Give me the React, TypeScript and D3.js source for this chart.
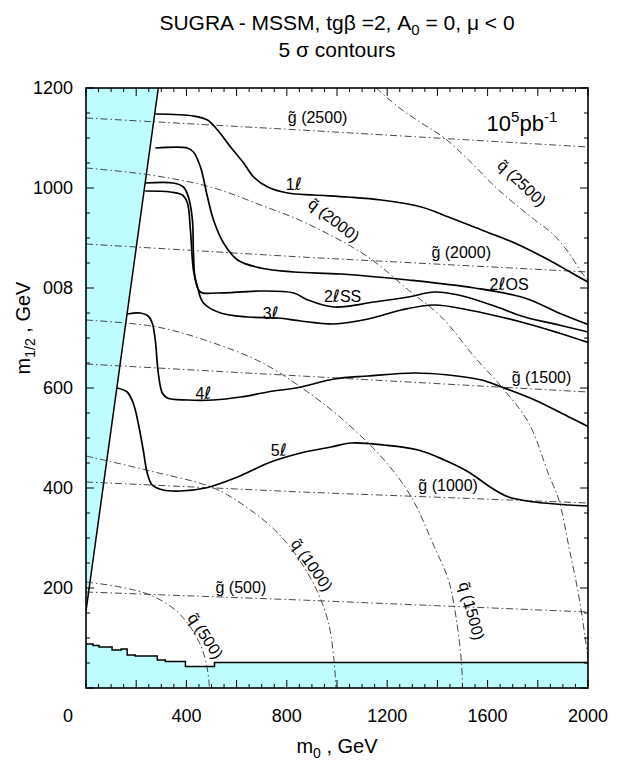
import React from "react";
import * as d3 from "d3";

const W = 622;
const H = 760;
const FRAME = { left: 86, right: 588, top: 88, bottom: 688 };

type P = [number, number];

// axis ticks
const xTickValues = [400, 800, 1200, 1600, 2000];
const xTickLabels = ["400", "800", "1200", "1600", "2000"];
const yTickValues = [200, 400, 600, 800, 1000, 1200];
const yTickLabels = ["200", "400", "600", "008", "1000", "1200"];

// 5 sigma contours (m0, m1/2)
const curve1l: P[] = [[276,1148],[428,1144],[484,1136],[524,1116],[576,1082],[628,1050],[668,1022],[724,1002],[804,990],[908,986],[1044,982],[1176,976],[1336,962],[1444,942],[1576,916],[1708,890],[1844,856],[1936,830],[2000,812]];
const curve2lOS: P[] = [[276,1080],[404,1080],[428,1072],[456,1042],[484,982],[508,936],[548,890],[604,856],[696,840],[828,832],[1016,828],[1284,816],[1548,800],[1748,780],[1884,750],[2000,727]];
const curve2lSS: P[] = [[236,1010],[348,1010],[388,1002],[408,982],[424,936],[428,870],[436,816],[456,792],[524,790],[696,794],[828,790],[884,776],[988,762],[1148,772],[1284,782],[1388,792],[1484,786],[1616,766],[1748,742],[1884,726],[2000,712]];
const curve3l: P[] = [[236,994],[336,992],[384,986],[404,970],[416,916],[428,836],[444,802],[468,770],[536,750],[644,742],[764,740],[856,734],[988,728],[1124,738],[1256,756],[1388,766],[1524,756],[1748,730],[1884,710],[2000,691]];
const curve4l: P[] = [[164,748],[216,750],[248,744],[264,730],[276,696],[288,630],[304,590],[324,580],[404,576],[508,576],[616,582],[724,592],[856,602],[988,618],[1124,624],[1308,630],[1444,626],[1576,616],[1656,602],[1788,576],[1924,542],[2000,523]];
const curve5l: P[] = [[124,600],[164,592],[188,570],[208,530],[228,476],[244,430],[264,406],[308,396],[376,394],[476,400],[604,422],[736,452],[856,470],[976,482],[1056,490],[1188,486],[1324,476],[1428,456],[1524,432],[1616,400],[1684,382],[1788,372],[1924,366],[2000,364]];

// gluino mass contours
const gluino500: P[] = [[0,192],[856,176],[2000,152]];
const gluino1000: P[] = [[0,412],[856,392],[2000,370]];
const gluino1500: P[] = [[0,648],[856,624],[2000,592]];
const gluino2000: P[] = [[0,888],[856,862],[2000,832]];
const gluino2500: P[] = [[0,1140],[856,1116],[2000,1082]];

// squark mass contours
const squark500: P[] = [[0,212],[136,202],[256,186],[356,156],[424,116],[464,76],[484,36],[492,0]];
const squark1000: P[] = [[0,464],[256,434],[508,400],[644,360],[764,310],[856,252],[928,186],[968,126],[988,56],[996,0]];
const squark1500: P[] = [[0,736],[284,722],[508,690],[696,652],[844,606],[1016,540],[1188,456],[1296,382],[1388,282],[1444,216],[1476,136],[1496,50],[1500,0]];
const squark2000: P[] = [[0,1040],[256,1026],[496,1002],[696,966],[876,930],[1124,862],[1284,796],[1416,742],[1548,662],[1656,602],[1764,530],[1844,426],[1884,376],[1924,282],[1964,182],[2000,60]];
const squark2500: P[] = [[1156,1200],[1244,1162],[1336,1130],[1428,1100],[1524,1056],[1644,996],[1788,936],[1856,910],[1924,870],[1976,830],[2000,816]];

// excluded regions
const wedgeEdge: P[] = [[288,1200],[0,154]];
const stairM0 = [0,28,52,104,140,164,196,284,316,396,512,2000];
const stairM12 = [88,85,82,76,78,66,64,56,53,43,51,51];

// annotations
const gluinoLabels = [
  { text: "(2500)", m0: 804, m12: 1130 },
  { text: "(2000)", m0: 1376, m12: 860 },
  { text: "(1500)", m0: 1696, m12: 610 },
  { text: "(1000)", m0: 1324, m12: 394 },
  { text: "(500)", m0: 516, m12: 190 },
];
const squarkLabels = [
  { text: "(2500)", m0: 1736, m12: 1010, angle: 43 },
  { text: "(2000)", m0: 988, m12: 936, angle: 38 },
  { text: "(1500)", m0: 1536, m12: 154, angle: 75 },
  { text: "(1000)", m0: 900, m12: 246, angle: 55 },
  { text: "(500)", m0: 476, m12: 104, angle: 57 },
];
const curveLabels = [
  { pre: "1", post: "", m0: 796, m12: 996 },
  { pre: "2", post: "SS", m0: 948, m12: 772 },
  { pre: "3", post: "", m0: 704, m12: 738 },
  { pre: "2", post: "OS", m0: 1608, m12: 796 },
  { pre: "4", post: "", m0: 436, m12: 578 },
  { pre: "5", post: "", m0: 736, m12: 464 },
];

const FONT = "'Liberation Sans', Arial, Helvetica, sans-serif";

export default function App() {
  const x = d3.scaleLinear().domain([0, 2000]).range([FRAME.left, FRAME.right]);
  const y = d3.scaleLinear().domain([0, 1200]).range([FRAME.bottom, FRAME.top]);

  const smooth = d3.line<P>().x(d => x(d[0])).y(d => y(d[1])).curve(d3.curveCatmullRom.alpha(0.5));
  const straight = d3.line<P>().x(d => x(d[0])).y(d => y(d[1]));

  const wedgeArea: P[] = [[0, 1200], wedgeEdge[0], wedgeEdge[1], [0, wedgeEdge[1][1]]];
  const stairPts: P[] = stairM0.map((m, i) => [m, stairM12[i]] as P);
  const stairLine = d3.line<P>().x(d => x(d[0])).y(d => y(d[1])).curve(d3.curveStepAfter);
  const stairArea = d3.area<P>().x(d => x(d[0])).y0(y(0)).y1(d => y(d[1])).curve(d3.curveStepAfter);

  const solids = [curve1l, curve2lOS, curve2lSS, curve3l, curve4l, curve5l];
  const gluinos = [gluino500, gluino1000, gluino1500, gluino2000, gluino2500];
  const squarks = [squark500, squark1000, squark1500, squark2000, squark2500];

  const minorX = d3.range(0, 2001, 50);
  const minorY = d3.range(0, 1201, 50);
  const isMajor = (v: number) => v % 200 === 0;

  const cyan = "#bffcfd";
  const dash = "7,3,1.5,3";

  return (
    <svg width={W} height={H} style={{ position: "absolute", left: 0, top: 0, background: "#fff" }} fontFamily={FONT}>
      <defs>
        <clipPath id="plot">
          <rect x={FRAME.left} y={FRAME.top} width={FRAME.right - FRAME.left} height={FRAME.bottom - FRAME.top} />
        </clipPath>
      </defs>

      {/* title */}
      <text x={337} y={30} fontSize={21} textAnchor="middle" fill="#000">
        SUGRA - MSSM, tgβ =2, A<tspan dy={5} fontSize={15}>0</tspan><tspan dy={-5}> = 0, μ &lt; 0</tspan>
      </text>
      <text x={337} y={57} fontSize={21} textAnchor="middle" fill="#000">5 σ contours</text>

      <g clipPath="url(#plot)">
        <path d={straight(wedgeArea) || ""} fill={cyan} stroke="none" />
        <path d={stairArea(stairPts) || ""} fill={cyan} stroke="none" />
        <path d={straight(wedgeEdge) || ""} fill="none" stroke="#000" strokeWidth={1.5} />
        <path d={stairLine(stairPts) || ""} fill="none" stroke="#000" strokeWidth={1.5} />

        {gluinos.map((g, i) => (
          <path key={"g" + i} d={straight(g) || ""} fill="none" stroke="#333" strokeWidth={0.9} strokeDasharray={dash} />
        ))}
        {squarks.map((s, i) => (
          <path key={"q" + i} d={smooth(s) || ""} fill="none" stroke="#333" strokeWidth={0.9} strokeDasharray={dash} />
        ))}
        {solids.map((c, i) => (
          <path key={"c" + i} d={smooth(c) || ""} fill="none" stroke="#000" strokeWidth={1.7} />
        ))}
      </g>

      {/* ticks */}
      <g stroke="#000" strokeWidth={1}>
        {minorX.map(v => {
          const len = isMajor(v) ? 8 : 4;
          return (
            <g key={"tx" + v}>
              <line x1={x(v)} x2={x(v)} y1={FRAME.bottom} y2={FRAME.bottom - len} />
              <line x1={x(v)} x2={x(v)} y1={FRAME.top} y2={FRAME.top + len} />
            </g>
          );
        })}
        {minorY.map(v => {
          const len = isMajor(v) ? 8 : 4;
          return (
            <g key={"ty" + v}>
              <line x1={FRAME.left} x2={FRAME.left + len} y1={y(v)} y2={y(v)} />
              <line x1={FRAME.right} x2={FRAME.right - len} y1={y(v)} y2={y(v)} />
            </g>
          );
        })}
      </g>

      <rect x={FRAME.left} y={FRAME.top} width={FRAME.right - FRAME.left} height={FRAME.bottom - FRAME.top} fill="none" stroke="#000" strokeWidth={1.6} />

      {/* annotations */}
      <g fontSize={16} fill="#000">
        {gluinoLabels.map((l, i) => (
          <text key={"gl" + i} x={x(l.m0)} y={y(l.m12)}>g̃ {l.text}</text>
        ))}
        {squarkLabels.map((l, i) => (
          <text key={"ql" + i} textAnchor="middle" dominantBaseline="central"
            transform={`translate(${x(l.m0)},${y(l.m12)}) rotate(${l.angle})`}>q̃ {l.text}</text>
        ))}
        {curveLabels.map((l, i) => (
          <text key={"cl" + i} x={x(l.m0)} y={y(l.m12)}>
            {l.pre}<tspan fontFamily="'DejaVu Sans', sans-serif" fontSize={17}>ℓ</tspan>{l.post}
          </text>
        ))}
      </g>
      <text x={x(1596)} y={y(1114)} fontSize={22} fill="#000">
        10<tspan dy={-9} fontSize={15}>5</tspan><tspan dy={9}>pb</tspan><tspan dy={-9} fontSize={15}>-1</tspan>
      </text>

      {/* tick labels */}
      <g fontSize={18} fill="#000">
        {xTickValues.map((v, i) => (
          <text key={"xl" + v} x={x(v)} y={722} textAnchor="middle">{xTickLabels[i]}</text>
        ))}
        <text x={68} y={722} textAnchor="middle">0</text>
        {yTickValues.map((v, i) => (
          <text key={"yl" + v} x={73} y={y(v)} textAnchor="end" dominantBaseline="central">{yTickLabels[i]}</text>
        ))}
      </g>

      {/* axis titles */}
      <text x={337} y={753} fontSize={20} textAnchor="middle" fill="#000">
        m<tspan dy={5} fontSize={14}>0</tspan><tspan dy={-5}> , GeV</tspan>
      </text>
      <text transform="translate(30,328) rotate(-90)" fontSize={20} textAnchor="middle" fill="#000">
        m<tspan dy={5} fontSize={14}>1/2</tspan><tspan dy={-5}> , GeV</tspan>
      </text>
    </svg>
  );
}
